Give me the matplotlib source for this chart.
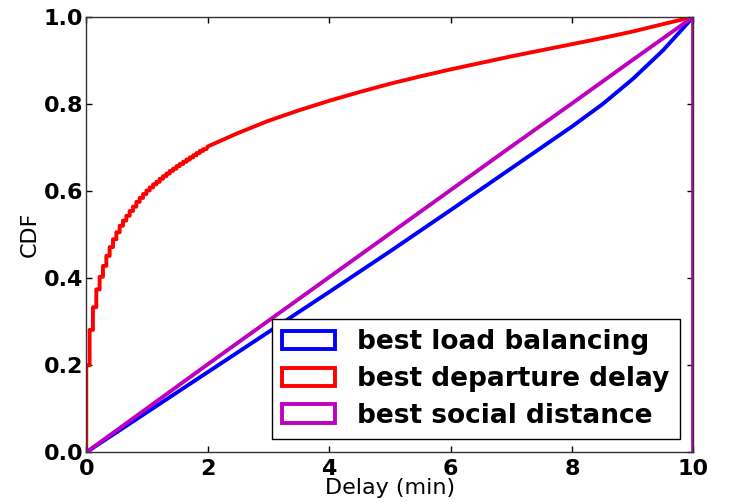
import matplotlib
matplotlib.use("Agg")
import matplotlib.pyplot as plt
from matplotlib.patches import Patch
import numpy as np

# ---- data ----
series_names = ["best load balancing", "best departure delay", "best social distance"]
series_colors = ["#0000ff", "#ff0000", "#bf00bf"]

# best departure delay: fine histogram-step CDF near 0, then smooth part
red_bin_width = 0.055
red_steps = [0.200, 0.281, 0.333, 0.374, 0.403, 0.428, 0.451, 0.471, 0.489, 0.505,
             0.520, 0.532, 0.543, 0.554, 0.564, 0.575, 0.584, 0.593, 0.601, 0.608,
             0.615, 0.621, 0.628, 0.634, 0.640, 0.646, 0.651, 0.657, 0.662, 0.667,
             0.672, 0.677, 0.682, 0.687, 0.692, 0.696]
red_tail_x = [2.0, 2.5, 3.0, 3.5, 4.0, 4.5, 5.0, 5.5, 6.0, 6.5, 7.0, 7.5, 8.0, 8.5, 9.0, 9.5, 10.0]
red_tail_y = [0.702, 0.733, 0.761, 0.785, 0.807, 0.827, 0.846, 0.863, 0.879, 0.894,
              0.909, 0.923, 0.937, 0.951, 0.966, 0.983, 1.000]

# best load balancing
blue_x = [0, 1, 2, 3, 4, 5, 6, 7, 8, 8.5, 9, 9.5, 10]
blue_y = [0.0, 0.092, 0.184, 0.276, 0.368, 0.461, 0.556, 0.652, 0.748, 0.799, 0.857, 0.923, 1.0]

# best social distance
purple_x = [0, 1, 2, 3, 4, 5, 6, 7, 8, 9, 10]
purple_y = [0.0, 0.101, 0.202, 0.302, 0.402, 0.502, 0.602, 0.702, 0.801, 0.901, 1.0]

x_ticks = [0, 2, 4, 6, 8, 10]
y_ticks = [0.0, 0.2, 0.4, 0.6, 0.8, 1.0]
x_label = "Delay (min)"
y_label = "CDF"

# ---- build the step outlines ----
def outline(x, y, x_end):
    xs = [x[0]] + list(x) + [x_end]
    ys = [0.0] + list(y) + [0.0]
    return xs, ys

rx, ry = [], []
for k, v in enumerate(red_steps):
    rx += [k * red_bin_width, (k + 1) * red_bin_width]
    ry += [v, v]
rx += red_tail_x
ry += red_tail_y

lw = 2.8
fig = plt.figure(figsize=(7.33, 5.03), dpi=100)
ax = fig.add_axes([0.1177, 0.1008, 0.8284, 0.866])

bx, by = outline(blue_x, blue_y, 10.0)
ax.plot(bx, by, color=series_colors[0], lw=lw)
rxx, ryy = outline(rx, ry, 10.0)
ax.plot(rxx, ryy, color=series_colors[1], lw=lw)
px, py = outline(purple_x, purple_y, 10.0)
ax.plot(px, py, color=series_colors[2], lw=lw)

ax.set_xlim(0, 10)
ax.set_ylim(0, 1)
ax.set_xticks(x_ticks)
ax.set_yticks(y_ticks)
ax.set_xticklabels([str(t) for t in x_ticks], fontweight="bold", fontsize=16)
ax.set_yticklabels(["%.1f" % t for t in y_ticks], fontweight="bold", fontsize=16)
ax.tick_params(axis="both", direction="in", length=4, width=1,
               top=True, right=True, colors="black")
ax.tick_params(axis="x", pad=5)
ax.tick_params(axis="y", pad=2)
ax.set_xlabel(x_label, fontsize=16, labelpad=-1)
ax.set_ylabel(y_label, fontsize=16, labelpad=3)
for s in ax.spines.values():
    s.set_linewidth(1.0)
    s.set_color("#333333")

handles = [Patch(facecolor="none", edgecolor=c, linewidth=lw) for c in series_colors]
leg = ax.legend(handles, series_names, loc="lower right",
                prop={"weight": "bold", "size": 19}, fancybox=False,
                framealpha=1, edgecolor="black", borderaxespad=0.5,
                labelspacing=0.4, handletextpad=0.85)
leg.get_frame().set_linewidth(1.0)

fig.savefig("out.png", dpi=100)
